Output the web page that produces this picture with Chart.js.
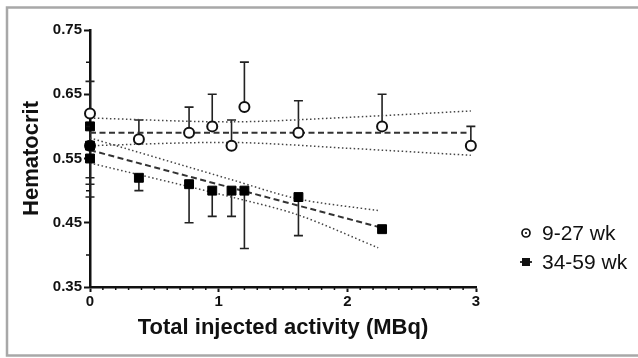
<!DOCTYPE html>
<html>
<head>
<meta charset="utf-8">
<script src="https://cdn.jsdelivr.net/npm/chart.js@4"></script>
<style>
  html, body { margin: 0; padding: 0; background: #fff; }
  #wrap { width: 638px; height: 358px; }
</style>
</head>
<body>
<div id="wrap"><canvas id="hctChart" width="638" height="358"></canvas></div>
<script>
// Hematocrit vs total injected activity, two age groups
// values

// 9-27 wk (open circles, error bar drawn upward only)
const youngX = [0, 0, 0.38, 0.77, 0.95, 1.1, 1.2, 1.62, 2.27, 2.96]
const youngY = [0.62, 0.57, 0.58, 0.59, 0.60, 0.57, 0.63, 0.59, 0.60, 0.57]
const youngErr = [0.05, 0, 0.03, 0.04, 0.05, 0.04, 0.07, 0.05, 0.05, 0.03]

// 34-59 wk (filled squares, error bar drawn downward only)
const oldX = [0, 0, 0, 0.38, 0.77, 0.95, 1.1, 1.2, 1.62, 2.27]
const oldY = [0.60, 0.57, 0.55, 0.52, 0.51, 0.50, 0.50, 0.50, 0.49, 0.44]
const oldErr = [0.08, 0.06, 0.06, 0.02, 0.06, 0.04, 0.04, 0.09, 0.06, 0]

// regression lines and their confidence bands
const youngFitX = [0, 2.96]
const youngFitY = [0.59, 0.59]
const youngBandX = [0, 1.1, 2.0, 2.96]
const youngUpper = [0.613, 0.607, 0.614, 0.624]
const youngLower = [0.570, 0.575, 0.566, 0.555]

const oldFitX = [0, 2.27]
const oldFitY = [0.563, 0.442]
const oldBandX = [0, 1.1, 1.62, 2.24]
const oldUpper = [0.582, 0.517, 0.487, 0.469]
const oldLower = [0.543, 0.490, 0.462, 0.411]

// axis ticks
const xTicks = [0, 1, 2, 3]
const xTickLabels = ['0', '1', '2', '3']
const yTicks = [0.35, 0.45, 0.55, 0.65, 0.75]
const yTickLabels = ['0.35', '0.45', '0.55', '0.65', '0.75']
const yMinorTicks = [0.40, 0.50, 0.60, 0.70]

const legendLabels = ['9-27 wk', '34-59 wk']

const FONT = "'Liberation Sans', Arial, Helvetica, sans-serif"
const INK = '#111'

const pts = (xs, ys) => xs.map((x, i) => ({ x: x, y: ys[i] }))

// grey frame round the whole figure
const framePlugin = {
  id: 'frame',
  beforeDraw(chart) {
    const ctx = chart.ctx
    ctx.save()
    ctx.fillStyle = '#fff'
    ctx.fillRect(0, 0, chart.width, chart.height)
    ctx.strokeStyle = '#a8a8a8'
    ctx.lineWidth = 2.5
    ctx.strokeRect(7, 7.5, 700, 348)
    ctx.restore()
  },
}

// one-sided error bars
const errorBarPlugin = {
  id: 'errorBars',
  beforeDatasetsDraw(chart) {
    const ctx = chart.ctx
    const xs = chart.scales.x
    const ys = chart.scales.y
    const drawBar = (x, y, end) => {
      const px = xs.getPixelForValue(x)
      const py0 = ys.getPixelForValue(y)
      const py1 = ys.getPixelForValue(end)
      ctx.beginPath()
      ctx.moveTo(px, py0)
      ctx.lineTo(px, py1)
      ctx.moveTo(px - 4.5, py1)
      ctx.lineTo(px + 4.5, py1)
      ctx.stroke()
    }
    ctx.save()
    ctx.strokeStyle = '#222'
    ctx.lineWidth = 1.6
    youngX.forEach((x, i) => {
      if (youngErr[i] > 0) drawBar(x, youngY[i], youngY[i] + youngErr[i])
    })
    oldX.forEach((x, i) => {
      if (oldErr[i] > 0) drawBar(x, oldY[i], oldY[i] - oldErr[i])
    })
    ctx.restore()
  },
}

// small unlabelled ticks
const minorTickPlugin = {
  id: 'minorTicks',
  afterDraw(chart) {
    const ctx = chart.ctx
    const xs = chart.scales.x
    const ys = chart.scales.y
    const area = chart.chartArea
    ctx.save()
    ctx.strokeStyle = INK
    ctx.lineWidth = 1.5
    ctx.beginPath()
    yMinorTicks.forEach((v) => {
      const py = ys.getPixelForValue(v)
      ctx.moveTo(area.left - 4, py)
      ctx.lineTo(area.left, py)
    })
    for (let k = 1; k < 30; k++) {
      if (k % 10 === 0) continue
      const px = xs.getPixelForValue(k / 10)
      ctx.moveTo(px, area.bottom)
      ctx.lineTo(px, area.bottom + 3)
    }
    ctx.stroke()
    ctx.restore()
  },
}

// legend on the right, drawn by hand so it can sit low like the original
const legendPlugin = {
  id: 'sideLegend',
  afterDraw(chart) {
    const ctx = chart.ctx
    ctx.save()
    ctx.font = '21px ' + FONT
    ctx.fillStyle = INK
    ctx.textBaseline = 'middle'
    ctx.textAlign = 'left'

    // circle entry
    ctx.strokeStyle = INK
    ctx.lineWidth = 1.7
    ctx.beginPath()
    ctx.arc(526, 233, 4, 0, Math.PI * 2)
    ctx.stroke()
    ctx.beginPath()
    ctx.arc(526, 233, 1.1, 0, Math.PI * 2)
    ctx.fill()
    ctx.fillText(legendLabels[0], 542, 234)

    // square entry
    ctx.beginPath()
    ctx.moveTo(520, 262)
    ctx.lineTo(532, 262)
    ctx.stroke()
    ctx.fillRect(522, 258, 8, 8)
    ctx.fillText(legendLabels[1], 542, 263)
    ctx.restore()
  },
}

const createChart = () => {
  const canvas = document.getElementById('hctChart')
  const dotted = { borderColor: '#444', borderWidth: 1.5, borderDash: [1.5, 2.5] }
  const dashed = { borderColor: '#333', borderWidth: 2, borderDash: [6, 3.5] }

  new Chart(canvas, {
    type: 'scatter',
    data: {
      // first dataset is painted last, so the squares sit on top of the circles
      datasets: [
        {
          label: legendLabels[1],
          data: pts(oldX, oldY),
          pointStyle: 'rect',
          pointRadius: 6.3,
          borderWidth: 1,
          borderColor: '#000',
          backgroundColor: '#000',
          clip: false,
        },
        {
          label: legendLabels[0],
          data: pts(youngX, youngY),
          pointStyle: 'circle',
          pointRadius: 5,
          borderWidth: 2,
          borderColor: INK,
          backgroundColor: '#fff',
          clip: false,
        },
        { data: pts(youngFitX, youngFitY), showLine: true, pointRadius: 0, ...dashed },
        { data: pts(oldFitX, oldFitY), showLine: true, pointRadius: 0, ...dashed },
        { data: pts(youngBandX, youngUpper), showLine: true, pointRadius: 0, tension: 0.3, ...dotted },
        { data: pts(youngBandX, youngLower), showLine: true, pointRadius: 0, tension: 0.3, ...dotted },
        { data: pts(oldBandX, oldUpper), showLine: true, pointRadius: 0, tension: 0.3, ...dotted },
        { data: pts(oldBandX, oldLower), showLine: true, pointRadius: 0, tension: 0.3, ...dotted },
      ],
    },
    options: {
      responsive: false,
      animation: false,
      events: [],
      layout: { padding: { left: 0, right: 162, top: 30, bottom: 0 } },
      plugins: {
        legend: { display: false },
        tooltip: { enabled: false },
      },
      scales: {
        x: {
          type: 'linear',
          min: 0,
          max: 3,
          afterBuildTicks: (scale) => {
            scale.ticks = xTicks.map((v) => ({ value: v }))
          },
          afterFit: (scale) => {
            scale.height = 71
          },
          grid: { drawOnChartArea: false, drawTicks: true, tickLength: 5, tickWidth: 2, tickColor: INK },
          border: { color: INK, width: 2.5 },
          ticks: {
            padding: 1,
            color: INK,
            font: { family: FONT, size: 15, weight: 'bold' },
            callback: (value, index) => xTickLabels[index],
          },
          title: {
            display: true,
            text: 'Total injected activity (MBq)',
            color: INK,
            font: { family: FONT, size: 22, weight: 'bold' },
            padding: { top: 0, bottom: 17 },
          },
        },
        y: {
          type: 'linear',
          min: 0.35,
          max: 0.75,
          afterBuildTicks: (scale) => {
            scale.ticks = yTicks.map((v) => ({ value: v }))
          },
          afterFit: (scale) => {
            scale.width = 90
          },
          grid: { drawOnChartArea: false, drawTicks: true, tickLength: 6, tickWidth: 2, tickColor: INK },
          border: { color: INK, width: 2.5 },
          ticks: {
            padding: 2,
            color: INK,
            font: { family: FONT, size: 15, weight: 'bold' },
            callback: (value, index) => yTickLabels[index],
          },
          title: {
            display: true,
            text: 'Hematocrit',
            color: INK,
            font: { family: FONT, size: 22, weight: 'bold' },
            padding: { top: 19, bottom: 0 },
          },
        },
      },
    },
    plugins: [framePlugin, errorBarPlugin, minorTickPlugin, legendPlugin],
  })
}

createChart()
</script>
</body>
</html>
